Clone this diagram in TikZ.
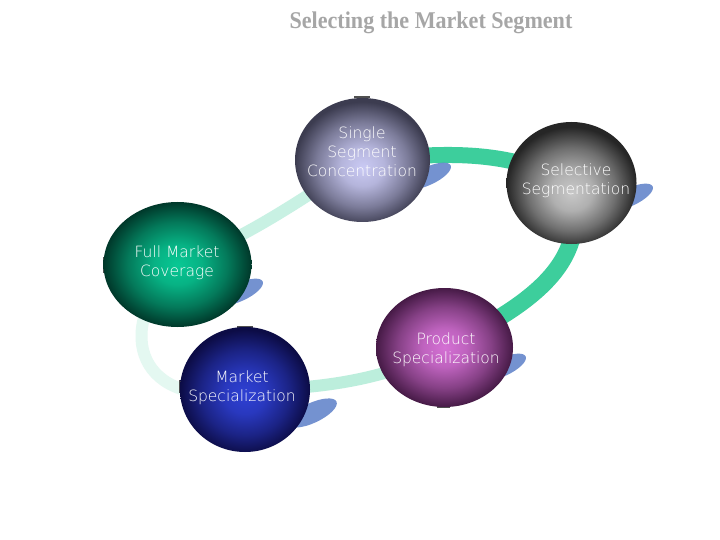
\documentclass[tikz,border=0pt]{standalone}
\usepackage{fontspec}
\usetikzlibrary{shapes.geometric}
\newfontfamily\lightfont{DejaVu Sans ExtraLight}
\newfontfamily\titlefont{Liberation Serif}
\definecolor{bandgreen}{HTML}{3DCE9C}
\definecolor{bandmint}{HTML}{BCEEDC}
\definecolor{bandpale}{HTML}{C8F1E3}
\definecolor{bandpaler}{HTML}{E4F8F1}
\definecolor{shadowblue}{HTML}{5C7FC8}
\definecolor{tickgray}{HTML}{505050}
\definecolor{titlegray}{HTML}{A6A6A6}
\definecolor{sscin}{HTML}{CACAF4}\definecolor{sscout}{HTML}{3C3C50}
\definecolor{ssin}{HTML}{C8C8C8}\definecolor{ssout}{HTML}{262626}
\definecolor{fmin}{HTML}{08C894}\definecolor{fmout}{HTML}{00382A}
\definecolor{msin}{HTML}{2E40D4}\definecolor{msout}{HTML}{0C0C46}
\definecolor{psin}{HTML}{D470D4}\definecolor{psout}{HTML}{461A46}
\pgfdeclareradialshading{sscshade}{\pgfpoint{0bp}{-3bp}}{color(0bp)=(sscin); color(8bp)=(sscin!85!sscout); color(17bp)=(sscin!45!sscout); color(25bp)=(sscout); color(50bp)=(sscout)}
\pgfdeclareradialshading{ssshade}{\pgfpoint{0bp}{-4bp}}{color(0bp)=(ssin); color(8bp)=(ssin!85!ssout); color(17bp)=(ssin!45!ssout); color(25bp)=(ssout); color(50bp)=(ssout)}
\pgfdeclareradialshading{fmshade}{\pgfpoint{0bp}{0bp}}{color(0bp)=(fmin); color(8bp)=(fmin!85!fmout); color(17bp)=(fmin!45!fmout); color(25bp)=(fmout); color(50bp)=(fmout)}
\pgfdeclareradialshading{msshade}{\pgfpoint{0bp}{-2bp}}{color(0bp)=(msin); color(8bp)=(msin!85!msout); color(17bp)=(msin!45!msout); color(25bp)=(msout); color(50bp)=(msout)}
\pgfdeclareradialshading{psshade}{\pgfpoint{0bp}{0bp}}{color(0bp)=(psin); color(8bp)=(psin!85!psout); color(17bp)=(psin!45!psout); color(25bp)=(psout); color(50bp)=(psout)}
\tikzset{
  ball/.style={ellipse, inner sep=0pt, outer sep=0pt},
  balltext/.style={align=center, text=white, font=\lightfont\fontsize{15.5}{19}\selectfont, inner sep=0pt},
  band/.style={line cap=round, line width=#1},
  shadowblob/.style={fill=shadowblue, fill opacity=0.85},
  tick/.style={draw=tickgray, line width=1.2pt}
}
\begin{document}
\begin{tikzpicture}[x=1pt,y=-1pt]
\useasboundingbox[fill=white] (0,0) rectangle (720,540);
% title
\node[font=\titlefont\bfseries\fontsize{24}{28}\selectfont, text=titlegray, xscale=0.92] (title) at (431,23) {Selecting the Market Segment};
% ball centre coordinates
\coordinate (cssc) at (362.5,160);
\coordinate (css) at (571.5,183);
\coordinate (cfm) at (177.5,264.5);
\coordinate (cms) at (245,389.5);
\coordinate (cps) at (444.5,347.5);
% band
\draw[band=12pt, bandpale] (cfm) .. controls (250,236) and (300,200) .. (cssc);
\draw[band=16pt, bandgreen] (cssc) .. controls (430,155) and (500,145) .. (css);
\draw[band=17pt, bandgreen] (css) .. controls (590,260) and (540,300) .. (cps);
\draw[band=12pt, bandmint] (cps) .. controls (400,375) and (330,390) .. (cms);
\draw[band=12pt, bandpaler] (cms) .. controls (140,412) and (110,330) .. (cfm);
% shadows
\fill[shadowblob, rotate around={25:(428,176)}] (428,176) ellipse [x radius=25, y radius=9];
\fill[shadowblob, rotate around={25:(630,197)}] (630,197) ellipse [x radius=25, y radius=9];
\fill[shadowblob, rotate around={25:(240,292)}] (240,292) ellipse [x radius=25, y radius=9];
\fill[shadowblob, rotate around={25:(312,413)}] (312,413) ellipse [x radius=27, y radius=10];
\fill[shadowblob, rotate around={25:(503,367)}] (503,367) ellipse [x radius=25, y radius=9];
% small ticks
\draw[tick] (354,97) -- (370,97);
\draw[tick] (104,257) -- (104,273);
\draw[tick] (237,327) -- (253,327);
\draw[tick] (180,380) -- (180,393);
\draw[tick] (377,343) -- (377,356);
\draw[tick] (437,407) -- (450,407);
% balls
\node[ball, shading=sscshade, minimum width=135pt, minimum height=124pt] (ssc) at (cssc) {};
\node[ball, shading=ssshade, minimum width=130pt, minimum height=122pt] (ss) at (css) {};
\node[ball, shading=fmshade, minimum width=148pt, minimum height=125pt] (fm) at (cfm) {};
\node[ball, shading=msshade, minimum width=130pt, minimum height=125pt] (ms) at (cms) {};
\node[ball, shading=psshade, minimum width=137pt, minimum height=119pt] (ps) at (cps) {};
% texts
\node[balltext] (tssc) at (362,152) {Single\\Segment\\Concentration};
\node[balltext] (tss) at (576,180.5) {Selective\\Segmentation};
\node[balltext] (tfm) at (177,262.5) {Full Market\\Coverage};
\node[balltext] (tms) at (242,387.5) {Market\\Specialization};
\node[balltext] (tps) at (446,349.5) {Product\\Specialization};
\end{tikzpicture}
\end{document}
